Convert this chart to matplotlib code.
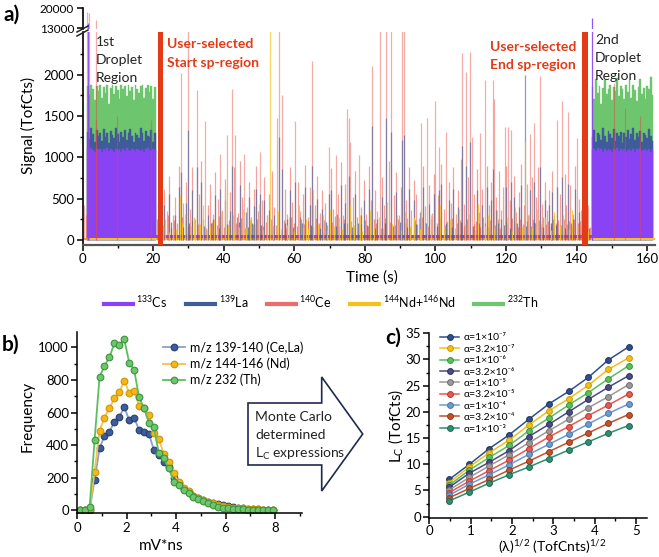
import numpy as np
import matplotlib.pyplot as plt
from matplotlib.lines import Line2D
from matplotlib.patches import Polygon

plt.rcParams['font.family'] = ['Lato', 'DejaVu Sans']
plt.rcParams['mathtext.default'] = 'regular'

W, H = 659, 557

# ---------------- panel a data ----------------
# droplet regions (0.5 s samples)
drop1_t = [1.5, 2.0, 2.5, 3.0, 3.5, 4.0, 4.5, 5.0, 5.5, 6.0, 6.5, 7.0, 7.5, 8.0, 8.5, 9.0, 9.5, 10.0, 10.5, 11.0,
           11.5, 12.0, 12.5, 13.0, 13.5, 14.0, 14.5, 15.0, 15.5, 16.0, 16.5, 17.0, 17.5, 18.0, 18.5, 19.0, 19.5, 20.0, 20.5]
drop1_th = [1860, 1750, 1870, 1820, 1690, 1860, 1800, 1870, 1720, 1850, 1780, 1870, 1650, 1840, 1870, 1760, 1860, 1810, 1700, 1870,
            1830, 1860, 1740, 1870, 1800, 1850, 1690, 1870, 1820, 1780, 1860, 1870, 1720, 1840, 1870, 1790, 1860, 1700, 1850]
drop1_la = [1310, 1220, 1350, 1280, 1180, 1330, 1260, 1300, 1200, 1340, 1250, 1290, 1170, 1320, 1270, 1230, 1360, 1280, 1190, 1310,
            1250, 1330, 1210, 1290, 1340, 1260, 1180, 1300, 1270, 1230, 1350, 1290, 1200, 1320, 1260, 1240, 1330, 1190, 1300]
drop1_cs = [1100, 1080, 1110, 1090, 1070, 1105, 1085, 1100, 1060, 1095, 1080, 1110, 1075, 1100, 1090, 1065, 1105, 1085, 1095, 1070,
            1100, 1080, 1110, 1090, 1075, 1100, 1085, 1065, 1105, 1090, 1080, 1100, 1070, 1095, 1110, 1085, 1075, 1100, 1090]

drop2_t = [144.5, 145.0, 145.5, 146.0, 146.5, 147.0, 147.5, 148.0, 148.5, 149.0, 149.5, 150.0, 150.5, 151.0, 151.5, 152.0, 152.5,
           153.0, 153.5, 154.0, 154.5, 155.0, 155.5, 156.0, 156.5, 157.0, 157.5, 158.0, 158.5, 159.0, 159.5, 160.0, 160.5, 161.0, 161.5]
drop2_th = [1850, 1700, 1950, 1780, 1860, 1650, 1840, 1930, 1760, 1820, 1870, 1690, 1850, 1800, 1960, 1740, 1860, 1830,
            1700, 1870, 1790, 1940, 1720, 1870, 1810, 1680, 1850, 1950, 1770, 1840, 1700, 1860, 1820, 1970, 1750]
drop2_la = [1250, 1330, 1180, 1300, 1270, 1210, 1350, 1260, 1190, 1320, 1280, 1230, 1340, 1200, 1290, 1260, 1310, 1170,
            1300, 1250, 1330, 1220, 1280, 1360, 1210, 1290, 1240, 1320, 1190, 1300, 1270, 1230, 1340, 1260, 1200]
drop2_cs = [1090, 1100, 1075, 1110, 1085, 1095, 1065, 1100, 1080, 1105, 1090, 1070, 1100, 1085, 1110, 1075, 1095, 1080,
            1100, 1065, 1090, 1105, 1080, 1095, 1070, 1100, 1085, 1110, 1075, 1090, 1100, 1080, 1095, 1070, 1100]

# single-particle spikes (time s, signal TofCts)
ce_tall = [(0.4, 420), (0.9, 300), (1.4, 18800), (1.7, 18200), (3.7, 1450), (3.9, 15900), (9.8, 1500), (19.5, 1450),
           (150.7, 1900), (153.8, 1600), (158.0, 1500),
           (27.8, 2020), (29.8, 2600), (32.3, 1810), (34.8, 1440), (39.0, 1040), (41.0, 1270), (42.4, 1830), (43.3, 1270),
           (45.7, 1040), (50.2, 1070), (55.0, 1470), (55.8, 2600), (56.6, 1750), (60.3, 1440), (65.0, 2160), (69.7, 1130),
           (71.7, 1030), (75.0, 1580), (75.4, 1470), (75.9, 1190), (78.3, 1030), (82.1, 2100), (84.2, 2600), (86.0, 2600),
           (87.5, 2600), (90.5, 2600), (91.0, 2600), (95.9, 1420), (97.6, 1480), (100.0, 1680), (101.0, 1130), (103.0, 1310),
           (107.6, 2260), (108.7, 2030), (109.9, 2270), (110.4, 1240), (112.7, 1300), (113.9, 1940), (116.3, 1930),
           (116.5, 1710), (119.6, 1370), (120.6, 1370), (121.5, 1330), (126.7, 1280), (127.9, 1420), (129.5, 1980),
           (134.5, 1450), (135.9, 1680), (137.5, 1550), (140.1, 1230)]
ce_mid = [(21.5, 430), (23.0, 620), (23.8, 350), (24.6, 780), (25.5, 300), (26.3, 520), (27.2, 900), (28.6, 450), (29.2, 700),
          (30.5, 380), (31.1, 880), (31.8, 260), (33.0, 560), (33.7, 950), (35.5, 420), (36.2, 680), (36.9, 310), (37.6, 820),
          (38.3, 500), (39.6, 360), (40.3, 740), (41.8, 580), (42.9, 880), (44.0, 330), (44.6, 960), (45.2, 520), (46.5, 400),
          (47.1, 700), (47.8, 280), (48.5, 620), (49.1, 900), (49.7, 350), (50.8, 480), (51.5, 760), (52.2, 300), (52.8, 560),
          (53.6, 840), (54.3, 400), (57.3, 620), (58.0, 320), (58.7, 880), (59.4, 460), (61.0, 700), (61.7, 350), (62.4, 560),
          (63.1, 910), (63.8, 280), (64.4, 640), (65.8, 420), (66.5, 780), (67.2, 330), (67.9, 600), (68.6, 450), (70.4, 870),
          (71.0, 380), (72.4, 560), (73.1, 940), (73.8, 300), (74.4, 680), (76.6, 520), (77.3, 830), (79.0, 400), (79.7, 720),
          (80.4, 320), (81.1, 900), (81.7, 480), (82.8, 610), (83.5, 350), (84.9, 760), (85.4, 420), (86.7, 950), (88.2, 540),
          (88.9, 820), (89.6, 300), (90.1, 640), (91.7, 480), (92.4, 880), (93.1, 360), (93.8, 720), (94.5, 560), (95.2, 270),
          (96.6, 900), (97.1, 410), (98.3, 660), (99.0, 330), (99.6, 800), (100.6, 540), (101.7, 920), (102.3, 380),
          (103.7, 700), (104.4, 450), (105.1, 880), (105.8, 320), (106.5, 600), (107.1, 980), (108.2, 430), (109.3, 760),
          (111.0, 560), (111.7, 860), (112.2, 340), (113.3, 620), (114.5, 900), (115.2, 420), (115.8, 700), (117.2, 520),
          (117.9, 840), (118.6, 360), (119.1, 640), (120.1, 900), (121.0, 480), (122.2, 780), (122.9, 340), (123.6, 580),
          (124.3, 920), (125.0, 420), (125.8, 680), (126.2, 300), (127.3, 760), (128.5, 520), (129.0, 880), (130.2, 440),
          (130.9, 700), (131.6, 360), (132.3, 600), (133.0, 840), (133.7, 300), (135.2, 560), (136.6, 800), (137.0, 420),
          (138.2, 660), (138.9, 320), (139.5, 900), (140.7, 500), (141.3, 360), (143.3, 420)]
ce_low = [(21.2, 260), (22.6, 180), (24.2, 300), (25.0, 150), (25.9, 240), (26.8, 200), (28.1, 280), (30.0, 170), (30.9, 230),
          (32.7, 190), (34.2, 260), (35.0, 140), (36.6, 220), (38.0, 180), (38.8, 290), (40.0, 160), (41.4, 240), (43.6, 200),
          (45.0, 270), (46.0, 150), (47.5, 230), (48.2, 190), (49.4, 250), (51.0, 170), (51.9, 220), (53.3, 260), (54.8, 180),
          (57.0, 240), (57.7, 150), (59.0, 280), (60.0, 200), (60.7, 170), (62.0, 250), (62.8, 190), (64.0, 230), (65.4, 160),
          (66.1, 270), (66.9, 200), (68.3, 240), (69.2, 180), (70.8, 220), (71.4, 290), (72.8, 170), (74.0, 250), (74.8, 200),
          (76.2, 230), (77.0, 160), (77.8, 280), (78.8, 190), (80.0, 240), (80.8, 170), (82.5, 260), (83.2, 200), (84.5, 150),
          (85.8, 270), (87.1, 220), (88.5, 180), (89.3, 250), (91.4, 200), (92.0, 270), (92.8, 160), (94.1, 240), (94.9, 190),
          (96.2, 280), (97.9, 170), (98.7, 250), (100.3, 200), (101.3, 260), (102.7, 180), (103.3, 230), (104.0, 150),
          (104.8, 270), (106.1, 200), (106.9, 240), (108.0, 170), (109.0, 260), (110.8, 190), (111.4, 230), (112.5, 160),
          (113.6, 280), (114.1, 200), (115.5, 240), (116.9, 180), (117.6, 260), (118.3, 150), (119.9, 230), (120.4, 190),
          (121.8, 270), (122.6, 200), (123.3, 160), (124.0, 250), (124.7, 190), (126.0, 230), (127.0, 170), (127.6, 260),
          (128.2, 200), (129.3, 240), (129.9, 160), (130.6, 280), (131.3, 190), (132.0, 230), (132.7, 170), (133.4, 250),
          (134.1, 200), (134.8, 240), (135.5, 180), (136.3, 260), (137.3, 190), (137.8, 230), (138.6, 170), (139.2, 250),
          (140.4, 200), (141.0, 230), (141.7, 170), (143.0, 210), (143.8, 160)]

la_tall = [(29.8, 1330), (55.8, 1250), (82.1, 1380), (86.0, 1480), (87.5, 1310), (90.5, 1210), (91.0, 1270), (107.6, 1140),
           (109.9, 1180), (125.3, 1995)]
la_mid = [(21.8, 380), (23.0, 420), (24.6, 560), (26.3, 300), (27.2, 640), (27.8, 820), (29.2, 450), (31.1, 600), (32.3, 880),
          (33.7, 700), (35.5, 300), (36.9, 260), (37.6, 540), (39.0, 620), (40.3, 480), (41.8, 350), (42.4, 900), (43.7, 280),
          (44.6, 660), (46.2, 340), (47.1, 520), (48.5, 410), (49.1, 620), (50.2, 560), (51.5, 480), (52.8, 360), (54.3, 300),
          (56.6, 860), (58.0, 260), (58.7, 600), (60.3, 700), (61.7, 280), (63.1, 640), (64.4, 420), (65.0, 900), (66.5, 500),
          (67.9, 380), (69.7, 560), (70.4, 600), (72.1, 320), (73.1, 660), (74.4, 450), (75.4, 780), (77.3, 560), (78.8, 300),
          (79.7, 480), (81.1, 620), (83.5, 260), (84.9, 520), (88.9, 580), (92.4, 620), (93.8, 480), (95.5, 340), (96.6, 640),
          (98.3, 440), (99.6, 560), (101.0, 600), (101.7, 680), (103.7, 480), (105.1, 620), (106.5, 400), (108.7, 900),
          (111.7, 600), (113.3, 420), (114.5, 640), (115.8, 480), (116.3, 860), (117.2, 360), (118.6, 260), (120.1, 640),
          (121.5, 700), (122.2, 520), (123.6, 400), (124.3, 660), (126.7, 600), (127.9, 700), (129.5, 880), (130.9, 480),
          (132.3, 420), (133.0, 580), (134.5, 640), (135.9, 760), (137.5, 680), (138.9, 260), (139.5, 620), (140.7, 340),
          (142.0, 300)]
la_low = [(22.4, 180), (25.2, 220), (28.4, 160), (30.3, 200), (34.4, 170), (36.3, 210), (38.6, 150), (40.8, 190), (44.2, 220),
          (46.8, 160), (48.0, 200), (50.6, 180), (53.9, 170), (57.5, 210), (59.6, 160), (62.2, 200), (64.8, 180), (67.4, 150),
          (68.9, 220), (71.9, 170), (74.1, 200), (76.4, 160), (78.1, 210), (80.6, 180), (83.0, 150), (85.6, 200), (88.0, 170),
          (89.9, 220), (92.0, 160), (94.6, 190), (97.3, 210), (100.4, 170), (102.9, 200), (104.6, 160), (107.3, 220),
          (110.6, 170), (112.4, 200), (115.0, 160), (117.8, 210), (119.4, 180), (121.2, 150), (123.0, 200), (125.6, 170),
          (128.0, 220), (130.4, 160), (132.8, 200), (134.2, 180), (136.8, 150), (138.3, 200), (141.4, 170), (143.5, 150)]

nd_tall = [(53.0, 2600), (125.3, 1190)]
nd_mid = [(23.4, 260), (27.5, 540), (29.0, 320), (31.5, 280), (34.0, 420), (37.2, 260), (39.3, 340), (40.5, 600), (42.6, 300),
          (45.5, 380), (47.4, 260), (50.0, 440), (52.4, 300), (55.4, 350), (58.4, 280), (61.2, 420), (63.4, 260), (65.2, 600),
          (68.0, 300), (70.0, 380), (72.7, 280), (75.7, 420), (78.6, 300), (81.4, 360), (84.0, 280), (86.4, 460), (89.0, 300),
          (91.4, 340), (94.0, 280), (96.0, 380), (98.8, 300), (101.4, 420), (104.2, 260), (106.8, 380), (109.5, 320),
          (112.0, 440), (114.8, 300), (117.4, 360), (120.3, 280), (122.5, 400), (126.4, 320), (128.8, 380), (131.0, 280),
          (133.5, 340), (136.0, 300), (138.6, 360), (141.6, 280)]
nd_low = [(21.6, 120), (22.9, 180), (24.4, 100), (25.7, 160), (26.6, 130), (28.3, 200), (29.6, 110), (30.7, 170), (32.0, 140),
          (33.3, 190), (35.2, 120), (36.0, 170), (38.1, 130), (41.2, 180), (43.0, 110), (44.3, 160), (46.3, 140), (48.8, 190),
          (51.2, 120), (54.0, 170), (56.2, 130), (57.8, 180), (60.0, 110), (62.6, 160), (64.0, 140), (66.8, 190), (69.4, 120),
          (71.2, 170), (73.6, 130), (76.9, 180), (79.3, 110), (82.6, 160), (85.2, 140), (87.8, 190), (90.3, 120), (92.9, 170),
          (95.7, 130), (97.6, 180), (100.0, 110), (102.5, 160), (105.5, 140), (108.3, 190), (111.2, 120), (113.9, 170),
          (116.6, 130), (119.0, 180), (121.7, 110), (124.6, 160), (127.4, 140), (130.0, 190), (132.6, 120), (135.4, 170),
          (137.9, 130), (140.2, 180), (143.1, 120)]

cs_spikes = [(1.5, 15000), (144.3, 16500)]
cs_base_t = [20.5, 144.5]
cs_base_lo = [25, 25]
cs_base_hi = [65, 65]
nd_base_t = [0, 162.2]
nd_base = [25, 25]

sel_t = [22.0, 142.4]   # user-selected start / end of sp-region

# ---------------- panel b data ----------------
b_x = [0.1, 0.3, 0.5, 0.7, 0.9, 1.1, 1.3, 1.5, 1.7, 1.9, 2.1, 2.3, 2.5, 2.7, 2.9, 3.1, 3.3, 3.5, 3.7, 3.9,
       4.1, 4.3, 4.5, 4.7, 4.9, 5.1, 5.3, 5.5, 5.7, 5.9, 6.1, 6.3, 6.5, 6.7, 6.9, 7.1, 7.3, 7.5, 7.7, 7.9]
b_la = [0, 0, 3, 185, 380, 455, 481, 543, 574, 632, 554, 568, 492, 481, 467, 369, 338, 298, 267, 195,
        164, 127, 113, 86, 72, 62, 51, 45, 37, 29, 22, 17, 13, 10, 8, 6, 4, 3, 2, 1]
b_nd = [0, 0, 5, 236, 488, 568, 626, 687, 728, 793, 722, 732, 640, 626, 585, 472, 435, 345, 298, 226,
        174, 133, 119, 86, 72, 62, 51, 41, 31, 25, 20, 14, 12, 10, 8, 6, 4, 3, 2, 1]
b_th = [0, 0, 20, 431, 820, 886, 940, 1026, 1015, 1050, 907, 862, 693, 626, 537, 509, 349, 318, 256, 174,
        154, 123, 103, 82, 66, 55, 45, 31, 20, 14, 10, 8, 6, 4, 2, 2, 1, 1, 1, 0]
b_labels = ['m/z 139-140 (Ce,La)', 'm/z 144-146 (Nd)', 'm/z 232 (Th)']

# ---------------- panel c data ----------------
c_x = [0.48, 0.97, 1.45, 1.93, 2.41, 2.89, 3.37, 3.85, 4.33, 4.82]
c_alpha = ['1×10⁻⁷', '3.2×10⁻⁷', '1×10⁻⁶', '3.2×10⁻⁶', '1×10⁻⁵',
           '3.2×10⁻⁵', '1×10⁻⁴', '3.2×10⁻⁴', '1×10⁻³']
c_lc = [
    [7.1, 10.0, 13.0, 15.6, 18.6, 21.5, 23.9, 26.6, 29.9, 32.4],
    [6.5, 9.5, 12.2, 14.6, 17.5, 20.2, 22.5, 25.1, 28.1, 30.3],
    [6.0, 8.9, 11.3, 13.6, 16.4, 18.8, 21.3, 23.7, 26.3, 28.8],
    [5.6, 8.3, 10.4, 12.6, 15.3, 17.6, 20.0, 22.4, 24.7, 26.9],
    [5.1, 7.5, 9.7, 11.8, 14.1, 16.4, 18.6, 20.8, 22.9, 25.2],
    [4.6, 6.8, 8.8, 10.8, 13.0, 15.2, 17.2, 19.3, 21.3, 23.4],
    [4.1, 6.2, 8.0, 9.9, 11.9, 13.8, 15.7, 17.7, 19.7, 21.5],
    [3.6, 5.4, 7.1, 8.9, 10.6, 12.4, 14.2, 16.0, 17.8, 19.5],
    [3.0, 4.7, 6.4, 8.0, 9.5, 11.1, 12.7, 14.3, 15.9, 17.4],
]
c_colors = ['#2f4f8f', '#f2be1a', '#5cbf5c', '#4b4b85', '#9a9a9a', '#e85a50', '#6d9bd0', '#c0532b', '#2f8f70']
c_edges = ['#1d3366', '#c99a00', '#3a943a', '#30305e', '#6e6e6e', '#b8362e', '#4874a8', '#8f3818', '#1e6650']

cs_c = '#8a42f5'
la_c = '#3d5c99'
ce_c = '#e8473f'
nd_c = '#f5c21b'
th_c = '#6dc66d'
sel_c = '#e33a17'
ink = '#222222'


def px(x, y):
    return (x / W, 1 - y / H)


def spikes(ax, pairs, color, alpha, lw=0.9):
    t, h = zip(*pairs)
    ax.vlines(t, 0, h, colors=color, alpha=alpha, lw=lw)


def draw_signal(ax):
    ax.bar(drop1_t, drop1_th, width=0.5, color=th_c, ec=th_c, lw=0.3)
    ax.bar(drop2_t, drop2_th, width=0.5, color=th_c, ec=th_c, lw=0.3)
    spikes(ax, ce_low, ce_c, 0.55)
    spikes(ax, ce_mid, ce_c, 0.5)
    spikes(ax, ce_tall, ce_c, 0.45)
    ax.bar(drop1_t, drop1_la, width=0.5, color=la_c, ec=la_c, lw=0.3)
    ax.bar(drop2_t, drop2_la, width=0.5, color=la_c, ec=la_c, lw=0.3)
    spikes(ax, la_low, la_c, 0.7)
    spikes(ax, la_mid, la_c, 0.6)
    spikes(ax, la_tall, la_c, 0.6)
    spikes(ax, nd_low, nd_c, 0.9)
    spikes(ax, nd_mid, nd_c, 0.8)
    spikes(ax, nd_tall, nd_c, 0.7)
    ax.bar(drop1_t, drop1_cs, width=0.5, color=cs_c, ec=cs_c, lw=0.3)
    ax.bar(drop2_t, drop2_cs, width=0.5, color=cs_c, ec=cs_c, lw=0.3)
    spikes(ax, cs_spikes, cs_c, 0.9)
    ax.fill_between(cs_base_t, cs_base_lo, cs_base_hi, color=cs_c, lw=0)
    ax.fill_between(nd_base_t, 0, nd_base, color=nd_c, lw=0)


fig = plt.figure(figsize=(W / 100, H / 100), dpi=100)

# ---------------- panel a ----------------
a_left, a_right = 82.5, 655
ax_top = fig.add_axes([a_left / W, 1 - 29 / H, (a_right - a_left) / W, 21 / H])
ax_low = fig.add_axes([a_left / W, 1 - 245 / H, (a_right - a_left) / W, 213 / H])
for ax in (ax_top, ax_low):
    draw_signal(ax)
    ax.set_xlim(0, 162.2)
    ax.spines[['top', 'right']].set_visible(False)
    ax.spines['left'].set_linewidth(1.2)
    ax.spines['bottom'].set_linewidth(1.6)
    ax.spines['bottom'].set_color('#555555')
    ax.tick_params(direction='out', length=4, width=1.1, labelsize=9.5, pad=2)
    ax.tick_params(which='minor', direction='out', length=2.5, width=1)

ax_low.bar(sel_t, 2700, bottom=-80, width=1.5, color=sel_c, lw=0, zorder=5)
ax_low.set_ylim(-60, 2515)
ax_low.set_yticks([0, 500, 1000, 1500, 2000])
ax_low.set_yticks(np.arange(250, 2500, 500), minor=True)
ax_low.set_xticks(np.arange(0, 161, 20))
ax_low.set_xticks(np.arange(10, 161, 20), minor=True)

ax_top.set_ylim(12755, 20105)
ax_top.set_yticks([13000, 20000])
ax_top.tick_params(axis='y', labelsize=8.5)
ax_top.spines['bottom'].set_visible(False)
ax_top.tick_params(axis='x', bottom=False, labelbottom=False)

# axis break marks
for y0 in (32, 36):
    fig.add_artist(Line2D([77 / W, 88 / W], [1 - y0 / H, 1 - (y0 - 6) / H], color=ink, lw=1.1))

fig.text(*px(3, 15), 'a)', fontsize=15, fontweight='bold', va='center', ha='left')
fig.text(*px(28, 125), 'Signal (TofCts)', fontsize=11, rotation=90, va='center', ha='center')
fig.text(*px(372, 278), 'Time (s)', fontsize=11, va='center', ha='center')

for txt, y in zip(['1st', 'Droplet', 'Region'], [42, 60, 78]):
    fig.text(*px(96, y), txt, fontsize=10, va='center', ha='left', color=ink)
for txt, y in zip(['2nd', 'Droplet', 'Region'], [40, 58, 76]):
    fig.text(*px(595, y), txt, fontsize=10, va='center', ha='left', color=ink)
for txt, y in zip(['User-selected', 'Start sp-region'], [44, 63]):
    fig.text(*px(167, y), txt, fontsize=10, fontweight='bold', va='center', ha='left', color=sel_c)
for txt, y in zip(['User-selected', 'End sp-region'], [47, 65]):
    fig.text(*px(576, y), txt, fontsize=10, fontweight='bold', va='center', ha='right', color=sel_c)

a_handles = [Line2D([], [], color=c, lw=3) for c in (cs_c, la_c, '#ec6b6b', nd_c, th_c)]
a_labels = ['$^{133}$Cs', '$^{139}$La', '$^{140}$Ce', '$^{144}$Nd+$^{146}$Nd', '$^{232}$Th']
fig.legend(a_handles, a_labels, loc='center', bbox_to_anchor=px(321, 302), ncol=5, frameon=False,
           fontsize=9, handlelength=2.3, handletextpad=0.3, columnspacing=1.5)

# ---------------- panel b ----------------
ax_b = fig.add_axes([77.3 / W, 1 - 513.3 / H, 224.4 / W, 181.6 / H])
b_styles = [('#8aa0c8', la_c, '#263f70'), ('#f5c24f', '#f4b619', '#cf9600'), ('#5cbf5c', th_c, '#3a943a')]
for yv, lab, (lc, fc, ec) in zip([b_la, b_nd, b_th], b_labels, b_styles):
    ax_b.plot(b_x, yv, '-o', color=lc, mfc=fc, mec=ec, ms=4.8, mew=0.8, lw=1.3, label=lab)
ax_b.set_xlim(0, 9.08)
ax_b.set_ylim(-20, 1097)
ax_b.set_xticks([0, 2, 4, 6, 8])
ax_b.set_xticks([1, 3, 5, 7, 9], minor=True)
ax_b.set_yticks([0, 200, 400, 600, 800, 1000])
ax_b.set_yticks([100, 300, 500, 700, 900], minor=True)
ax_b.legend(loc='upper left', bbox_to_anchor=px(157, 335), bbox_transform=fig.transFigure, frameon=False,
            fontsize=9, borderpad=0, handlelength=1.7, handletextpad=0.4, labelspacing=0.3)

fig.text(*px(2, 345), 'b)', fontsize=15, fontweight='bold', va='center', ha='left')
fig.text(*px(28, 416), 'Frequency', fontsize=11, rotation=90, va='center', ha='center')
fig.text(*px(161, 546), 'mV*ns', fontsize=11, va='center', ha='center')

# block arrow
arrow_pts = [(248, 403), (321.7, 403), (321.7, 377), (362.7, 434), (321.7, 491), (321.7, 465), (248, 465)]
fig.add_artist(Polygon([px(x, y) for x, y in arrow_pts], closed=True, transform=fig.transFigure,
                       facecolor='white', edgecolor='#1f2a50', lw=1.2))
for txt, y in zip(['Monte Carlo', 'determined', 'L$_C$ expressions'], [417, 435, 454]):
    fig.text(*px(255, y), txt, fontsize=10, va='center', ha='left', color=ink)

# ---------------- panel c ----------------
ax_c = fig.add_axes([429.3 / W, 1 - 518 / H, 217.4 / W, 184.7 / H])
for yv, lab, fc, ec in zip(c_lc, c_alpha, c_colors, c_edges):
    ax_c.plot(c_x, yv, '-o', color=fc, mfc=fc, mec=ec, ms=4.2, mew=0.7, lw=1.1, label='α=' + lab)
ax_c.set_xlim(0, 5.26)
ax_c.set_ylim(-0.25, 35)
ax_c.set_xticks([0, 1, 2, 3, 4, 5])
ax_c.set_xticks([0.5, 1.5, 2.5, 3.5, 4.5], minor=True)
ax_c.set_yticks([0, 5, 10, 15, 20, 25, 30, 35])
ax_c.set_yticks([2.5, 7.5, 12.5, 17.5, 22.5, 27.5, 32.5], minor=True)
ax_c.legend(loc='upper left', bbox_to_anchor=px(435, 328), bbox_transform=fig.transFigure, frameon=False,
            fontsize=7.5, borderpad=0, handlelength=1.8, handletextpad=0.4, labelspacing=0.2)

fig.text(*px(385, 338), 'c)', fontsize=15, fontweight='bold', va='center', ha='left')
fig.text(*px(396, 426), 'L$_C$ (TofCts)', fontsize=11, rotation=90, va='center', ha='center')
fig.text(*px(552, 556), '(λ)$^{1/2}$ (TofCnts)$^{1/2}$', fontsize=10, va='bottom', ha='center')

for ax in (ax_b, ax_c):
    ax.spines[['top', 'right']].set_visible(False)
    for s in ('left', 'bottom'):
        ax.spines[s].set_linewidth(1.1)
    ax.tick_params(direction='out', length=4, width=1.1, labelsize=9.5, pad=2)
    ax.tick_params(which='minor', direction='out', length=2.5, width=1)
ax_c.tick_params(axis='x', pad=1)

fig.savefig('out.png', dpi=100)
